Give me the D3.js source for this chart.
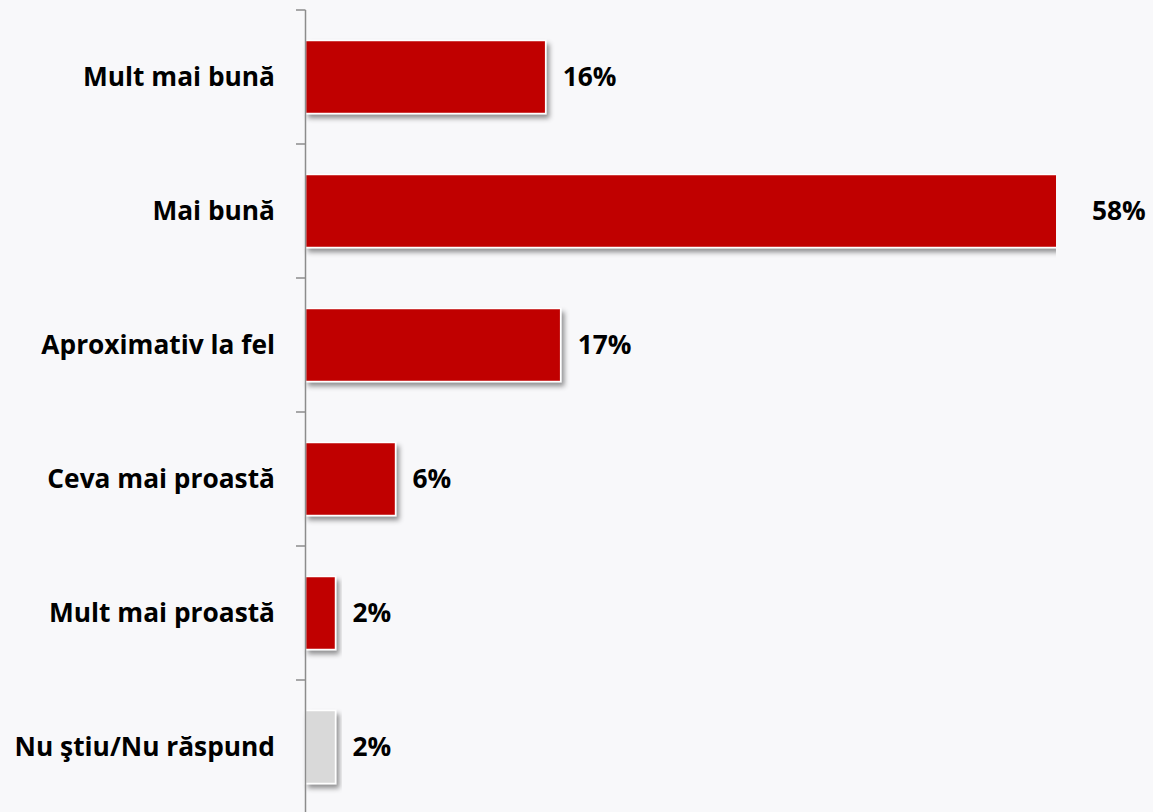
<!DOCTYPE html>
<html>
<head>
<meta charset="utf-8">
<script src="https://cdn.jsdelivr.net/npm/d3@7/dist/d3.min.js"></script>
<style>
  html, body { margin: 0; padding: 0; background: #F8F8FA; }
  svg { display: block; }
  text { font-family: "Open Sans", "Noto Sans", sans-serif; font-weight: 700; fill: #000; }
</style>
</head>
<body>
<svg id="chart" width="1153" height="812"></svg>
<script>
// Survey answers and their shares (%)
const categories = [
  "Mult mai bună",
  "Mai bună",
  "Aproximativ la fel",
  "Ceva mai proastă",
  "Mult mai proastă",
  "Nu ştiu/Nu răspund"
];
const values = [16, 58, 17, 6, 2, 2];
const valueLabels = ["16%", "58%", "17%", "6%", "2%", "2%"];
const barColors = ["#C00000", "#C00000", "#C00000", "#C00000", "#C00000", "#D9D9D9"];

const W = 1153, H = 812;
const axisX = 305.5, plotRight = 1056;
const plotTop = 10, plotBottom = 814;

const svg = d3.select("#chart");

// Value axis runs 0–50%; longer bars are cut off at the plot edge
const x = d3.scaleLinear().domain([0, 50]).range([axisX, plotRight]);
const y = d3.scaleBand().domain(categories).range([plotTop, plotBottom]).padding(0);
const barH = y.bandwidth() * 0.545;

const defs = svg.append("defs");
const shadow = defs.append("filter").attr("id", "barShadow")
  .attr("x", "-10%").attr("y", "-20%").attr("width", "130%").attr("height", "160%");
shadow.append("feDropShadow")
  .attr("dx", 3).attr("dy", 4).attr("stdDeviation", 2.6)
  .attr("flood-color", "#000").attr("flood-opacity", 0.42);

defs.append("clipPath").attr("id", "plotClip")
  .append("rect").attr("x", 0).attr("y", 0).attr("width", plotRight).attr("height", H);

const data = categories.map((c, i) => ({ c, v: values[i], label: valueLabels[i], color: barColors[i] }));

// Bars
svg.append("g").attr("clip-path", "url(#plotClip)")
  .selectAll("rect").data(data).join("rect")
  .attr("x", x(0))
  .attr("y", d => y(d.c) + (y.bandwidth() - barH) / 2)
  .attr("width", d => x(d.v) - x(0))
  .attr("height", barH)
  .attr("fill", d => d.color)
  .attr("stroke", "#fff")
  .attr("stroke-width", 1.5)
  .attr("filter", "url(#barShadow)");

// Category axis with ticks between categories
const axisG = svg.append("g");
axisG.append("line")
  .attr("x1", axisX).attr("x2", axisX)
  .attr("y1", plotTop).attr("y2", plotBottom)
  .attr("stroke", "#8C8C8C").attr("stroke-width", 1.5);
const boundaries = categories.map(c => y(c)).concat([y(categories[categories.length - 1]) + y.step()]);
axisG.selectAll("line.tick").data(boundaries).join("line")
  .attr("class", "tick")
  .attr("x1", axisX - 9.5).attr("x2", axisX)
  .attr("y1", d => d).attr("y2", d => d)
  .attr("stroke", "#8C8C8C").attr("stroke-width", 1.5);

// Category labels
svg.append("g").selectAll("text").data(data).join("text")
  .attr("x", 275)
  .attr("y", d => y(d.c) + y.bandwidth() / 2)
  .attr("dy", "0.35em")
  .attr("text-anchor", "end")
  .style("font-size", "26.3px")
  .text(d => d.c);

// Value labels after each bar
svg.append("g").selectAll("text").data(data).join("text")
  .attr("x", d => {
    const end = x(d.v);
    return end > plotRight ? plotRight + 36 : end + 17;
  })
  .attr("y", d => y(d.c) + y.bandwidth() / 2)
  .attr("dy", "0.35em")
  .style("font-size", "26.3px")
  .text(d => d.label);
</script>
</body>
</html>
